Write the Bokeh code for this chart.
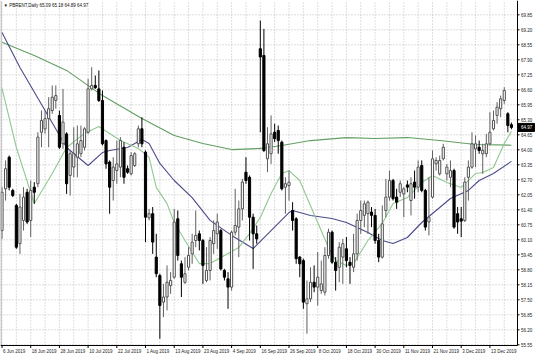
from bokeh.plotting import figure
from bokeh.models import ColumnDataSource, Range1d
from bokeh.core.properties import value
from bokeh.embed import file_html
from bokeh.resources import INLINE

title_text = "\u25bc PBRENT,Daily  65.09 65.18 64.89 64.97"

opens = [60.50, 62.31, 63.68, 62.24, 61.59, 59.93, 60.94, 62.16, 60.94, 62.38,
         62.53, 64.76, 64.90, 65.35, 65.70, 66.14, 65.49, 64.26, 64.69, 62.89,
         63.25, 63.68, 63.83, 64.11, 64.76, 66.64, 66.79, 66.64, 66.14, 64.40,
         63.47, 62.67, 63.10, 63.25, 64.11, 63.18, 62.96, 63.32, 64.26, 64.91,
         63.90, 61.05, 61.23, 59.35, 58.55, 57.40, 57.62, 58.12, 58.48, 61.01,
         59.06, 58.26, 58.91, 59.49, 60.07, 60.36, 60.07, 58.34, 58.77, 59.93,
         60.36, 60.50, 58.77, 58.41, 58.05, 60.43, 60.65, 61.44, 63.03, 62.81,
         61.08, 60.36, 68.38, 68.09, 63.61, 63.83, 64.76, 64.84, 64.33, 62.38,
         62.45, 61.37, 61.01, 59.35, 59.20, 57.33, 57.54, 58.26, 58.05, 57.90,
         57.83, 59.42, 60.43, 59.13, 58.91, 59.35, 59.71, 59.13, 58.91, 59.49,
         60.94, 61.16, 61.23, 61.30, 61.16, 60.07, 59.35, 61.37, 61.95, 62.67,
         61.95, 62.16, 62.09, 62.48, 61.80, 62.60, 62.38, 63.32, 62.24, 60.87,
         61.95, 63.39, 62.96, 63.61, 62.96, 62.81, 63.10, 61.23, 61.01, 60.94,
         62.81, 63.25, 64.04, 64.11, 63.83, 63.83, 64.26, 64.91, 65.49, 65.78,
         66.14, 65.56, 65.09]
highs = [62.38, 63.54, 63.75, 62.31, 61.66, 62.09, 62.38, 62.31, 62.67, 62.60,
         64.76, 65.70, 65.70, 66.28, 66.79, 66.79, 65.70, 66.64, 64.76, 63.97,
         64.98, 65.05, 65.05, 64.98, 67.08, 67.58, 67.22, 67.44, 66.57, 64.45,
         63.54, 63.68, 64.40, 64.55, 64.33, 63.32, 63.90, 63.90, 65.05, 65.41,
         63.97, 61.44, 61.52, 60.36, 58.63, 58.19, 58.99, 58.70, 61.44, 61.37,
         59.20, 59.35, 59.78, 60.36, 61.37, 60.50, 60.14, 59.78, 60.22, 60.94,
         61.23, 60.58, 58.84, 58.70, 60.50, 62.31, 61.80, 62.74, 63.68, 62.89,
         61.23, 60.72, 69.60, 69.24, 64.98, 65.49, 65.13, 65.05, 64.40, 62.81,
         63.10, 61.73, 61.08, 59.40, 59.28, 58.34, 58.91, 58.99, 59.57, 59.20,
         59.78, 60.58, 60.50, 59.35, 60.00, 60.14, 60.22, 59.35, 60.36, 61.23,
         61.80, 61.80, 61.80, 61.52, 61.44, 60.36, 61.59, 62.74, 63.10, 62.74,
         62.31, 62.67, 62.38, 62.67, 62.81, 63.10, 63.54, 63.54, 62.31, 62.81,
         63.97, 63.68, 63.75, 64.26, 63.39, 63.54, 63.18, 61.52, 61.52, 62.81,
         63.54, 64.76, 64.62, 64.40, 64.26, 64.69, 65.63, 65.70, 66.07, 66.35,
         66.71, 65.63, 65.18]
lows = [60.14, 61.80, 62.24, 61.95, 59.71, 59.49, 60.50, 60.79, 60.22, 61.66,
        62.38, 64.11, 64.70, 64.11, 65.56, 65.78, 64.04, 64.04, 62.09, 62.02,
        62.81, 62.81, 63.68, 63.97, 64.69, 66.57, 66.64, 66.07, 64.19, 63.18,
        61.23, 61.80, 62.53, 62.81, 62.53, 62.96, 62.89, 63.25, 64.11, 64.11,
        60.00, 60.94, 59.49, 58.48, 55.81, 56.75, 57.04, 57.76, 58.41, 59.20,
        57.62, 58.19, 58.77, 59.06, 59.78, 59.64, 58.19, 58.26, 58.34, 59.49,
        59.71, 58.77, 58.34, 57.11, 57.90, 60.29, 59.35, 60.94, 62.53, 60.07,
        58.84, 59.93, 64.76, 63.90, 63.03, 63.39, 64.33, 63.83, 62.24, 61.23,
        61.80, 60.50, 59.06, 58.48, 57.11, 56.03, 57.40, 57.83, 57.25, 57.76,
        57.69, 59.28, 59.06, 57.90, 58.26, 58.19, 58.91, 58.19, 58.70, 59.20,
        60.36, 60.65, 60.36, 60.65, 59.93, 59.13, 59.28, 61.08, 61.80, 61.80,
        61.44, 61.95, 61.08, 62.16, 61.16, 61.88, 62.16, 62.16, 60.50, 60.29,
        61.88, 63.10, 62.89, 63.54, 62.67, 62.38, 60.58, 60.36, 60.22, 60.87,
        61.80, 63.18, 63.25, 63.83, 62.96, 63.68, 64.19, 64.84, 65.13, 65.41,
        65.99, 64.76, 64.89]
closes = [62.16, 63.18, 62.38, 62.02, 59.78, 61.52, 61.95, 60.87, 62.24, 62.16,
          64.55, 65.27, 65.35, 65.78, 66.28, 66.35, 64.11, 65.20, 62.53, 63.83,
          63.83, 64.26, 64.40, 64.91, 66.64, 66.79, 66.69, 66.14, 64.26, 63.39,
          62.38, 63.25, 63.39, 64.40, 62.81, 63.03, 63.75, 63.83, 64.91, 64.26,
          61.08, 61.23, 60.00, 58.63, 57.25, 57.62, 58.26, 58.34, 60.87, 59.42,
          58.48, 58.63, 59.42, 60.00, 60.29, 60.07, 58.99, 58.77, 60.07, 60.50,
          60.87, 58.84, 58.48, 58.05, 60.43, 60.72, 61.44, 62.60, 62.67, 61.08,
          60.36, 60.14, 68.02, 63.97, 64.26, 64.69, 64.48, 64.40, 62.31, 62.53,
          62.60, 60.94, 59.28, 59.06, 57.40, 57.54, 58.26, 58.05, 58.48, 58.19,
          59.42, 60.43, 59.13, 58.77, 59.78, 59.93, 59.20, 58.99, 59.49, 60.94,
          61.37, 61.66, 61.73, 61.16, 60.07, 59.35, 60.79, 61.95, 62.67, 61.88,
          61.73, 62.53, 62.31, 62.38, 62.53, 62.38, 63.25, 62.24, 60.65, 61.08,
          63.61, 63.54, 63.54, 64.11, 63.25, 63.10, 60.65, 60.87, 60.91, 62.60,
          63.25, 64.26, 64.26, 63.97, 63.97, 64.26, 64.76, 65.27, 65.85, 66.21,
          66.57, 65.05, 64.97]

date_labels = ["6 Jun 2019", "18 Jun 2019", "28 Jun 2019", "10 Jul 2019", "22 Jul 2019",
               "1 Aug 2019", "13 Aug 2019", "23 Aug 2019", "4 Sep 2019", "16 Sep 2019",
               "26 Sep 2019", "8 Oct 2019", "18 Oct 2019", "30 Oct 2019", "11 Nov 2019",
               "21 Nov 2019", "3 Dec 2019", "13 Dec 2019"]
price_ticks = [55.55, 56.20, 56.85, 57.50, 58.15, 58.80, 59.45, 60.10, 60.75, 61.40,
               62.05, 62.70, 63.35, 64.00, 64.65, 65.30, 65.95, 66.60, 67.25, 67.90,
               68.55, 69.20, 69.85]

ma_slow_bar = [0, 9, 18, 28, 39, 48, 56, 64, 72, 78, 86, 96, 104, 113, 122, 132, 142]
ma_slow = [68.66, 68.09, 67.44, 66.35, 65.36, 64.62, 64.27, 64.01, 64.06, 64.19,
           64.40, 64.53, 64.49, 64.53, 64.40, 64.23, 64.20]
ma_mid_bar = [0, 5, 12, 18, 24, 28, 30, 35, 39, 41, 44, 48, 53, 58, 64, 70, 75, 80, 81,
              86, 92, 96, 102, 106, 109, 113, 117, 120, 125, 130, 133, 137, 142]
ma_mid = [69.08, 67.57, 65.70, 64.10, 63.32, 63.88, 63.97, 64.10, 64.45, 64.27, 63.41,
          62.67, 61.93, 60.94, 60.29, 59.72, 60.50, 61.28, 61.37, 61.15, 61.02, 60.85,
          60.42, 60.07, 59.94, 60.20, 60.85, 61.24, 61.89, 62.24, 62.67, 62.97, 63.50]
ma_fast_bar = [0, 4, 9, 14, 18, 23, 27, 30, 33, 38, 41, 43, 46, 48, 51, 55, 58, 62, 66,
               69, 72, 75, 78, 80, 83, 85, 88, 91, 93, 96, 98, 102, 106, 109, 113, 117,
               120, 124, 128, 132, 134, 137, 140, 142]
ma_fast = [66.66, 64.10, 61.67, 62.97, 64.10, 64.71, 65.01, 64.71, 64.40, 64.06, 63.67,
           62.37, 61.67, 60.85, 60.07, 59.07, 59.07, 59.42, 59.77, 60.37, 61.07, 62.11,
           62.97, 63.10, 62.67, 61.93, 60.85, 59.77, 59.20, 58.99, 59.07, 60.07, 60.81,
           61.67, 61.93, 62.58, 62.89, 62.58, 62.37, 62.97, 63.02, 63.23, 64.27, 64.80]

n = len(opens)
bars = list(range(n))
up = [i for i in bars if closes[i] >= opens[i]]
dn = [i for i in bars if closes[i] < opens[i]]


def make_src(ids):
    return ColumnDataSource(dict(
        x=ids,
        top=[max(opens[i], closes[i]) for i in ids],
        bottom=[min(opens[i], closes[i]) for i in ids],
        high=[highs[i] for i in ids],
        low=[lows[i] for i in ids],
    ))


src_up = make_src(up)
src_dn = make_src(dn)

# ---- layout: the whole canvas is the frame; price/time scales are drawn inside it
W, H = 536, 357
PLOT_W, PLOT_H = 517, 345          # chart area (left/top part of the canvas)
PX = 3.5875                        # pixels per bar
y0, y1 = 55.52, 70.47              # price at bottom / top of chart area
U = (y1 - y0) / PLOT_H             # price per pixel
x0 = -0.42
xr = x0 + PLOT_W / PX              # right edge of chart area (price scale line)
xe = x0 + W / PX
yb = y0 - (H - PLOT_H) * U

p = figure(width=W, height=H, output_backend="svg", toolbar_location=None,
           x_axis_location=None, y_axis_location=None,
           min_border_left=0, min_border_right=0, min_border_top=0, min_border_bottom=0,
           x_range=Range1d(x0, xe), y_range=Range1d(yb, y1))
p.grid.visible = False
p.outline_line_color = None
p.background_fill_color = "white"
p.border_fill_color = "white"

FONT = value("Liberation Sans")
FS = value("4.5px")

# grid (dotted)
grid_x = list(range(0, n, 4))
p.segment(x0=grid_x, y0=[y0] * len(grid_x), x1=grid_x, y1=[y1] * len(grid_x),
          line_color="#bdbdbd", line_dash="1 2", line_width=1)
p.segment(x0=[x0] * len(price_ticks), y0=price_ticks, x1=[xr] * len(price_ticks),
          y1=price_ticks, line_color="#bdbdbd", line_dash="1 2", line_width=1)

# moving averages
p.line(ma_slow_bar, ma_slow, line_color="#629e62", line_width=1.1)
p.line(ma_mid_bar, ma_mid, line_color="#4b4b8c", line_width=1.1)
p.line(ma_fast_bar, ma_fast, line_color="#90c890", line_width=1.1)

# candles
p.segment(x0="x", y0="low", x1="x", y1="high", source=src_up, line_color="#606060", line_width=1)
p.segment(x0="x", y0="low", x1="x", y1="high", source=src_dn, line_color="#000000", line_width=1)
p.vbar(x="x", width=0.6, top="top", bottom="bottom", source=src_up,
       fill_color="white", line_color="#505050", line_width=1)
p.vbar(x="x", width=0.6, top="top", bottom="bottom", source=src_dn,
       fill_color="black", line_color="black", line_width=1)

# frame lines: left border, price-scale line, time-scale line
p.segment(x0=[x0 + 0.5 / PX], y0=[y0], x1=[x0 + 0.5 / PX], y1=[y1], line_color="#a0a0a0", line_width=1)
p.segment(x0=[xr], y0=[y0], x1=[xr], y1=[y1], line_color="black", line_width=1)
p.segment(x0=[x0], y0=[y0], x1=[xr], y1=[y0], line_color="black", line_width=1)

# price scale ticks and labels
p.segment(x0=[xr] * len(price_ticks), y0=price_ticks, x1=[xr + 2 / PX] * len(price_ticks),
          y1=price_ticks, line_color="black", line_width=1)
p.text(x=[xr + 3.5 / PX] * len(price_ticks), y=price_ticks,
       text=[f"{t:.2f}" for t in price_ticks], text_font=FONT, text_font_size=FS,
       text_color="#222222", text_align="left", text_baseline="middle")

# time scale ticks and labels (left-aligned after the tick, MT4 style)
date_ticks = [8 * k for k in range(len(date_labels))]
p.segment(x0=date_ticks, y0=[y0] * len(date_ticks), x1=date_ticks,
          y1=[y0 - 2.5 * U] * len(date_ticks), line_color="black", line_width=1)
p.text(x=[t + 0.3 for t in date_ticks], y=[y0 - 3.5 * U] * len(date_ticks), text=date_labels,
       text_font=FONT, text_font_size=FS, text_color="#222222",
       text_align="left", text_baseline="top")

# title
p.text(x=[x0 + 3 / PX], y=[y1 - 2 * U], text=[title_text], text_font=FONT, text_font_size=FS,
       text_color="#111111", text_align="left", text_baseline="top")

# last price tag on the price scale
last = closes[-1]
p.quad(left=[xr], right=[xr + 17 / PX], bottom=[last - 4 * U], top=[last + 4 * U],
       fill_color="black", line_color="black")
p.text(x=[xr + 3.5 / PX], y=[last], text=[f"{last:.2f}"], text_font=FONT, text_font_size=FS,
       text_color="white", text_align="left", text_baseline="middle")

open("out.html", "w").write(file_html(p, INLINE))
